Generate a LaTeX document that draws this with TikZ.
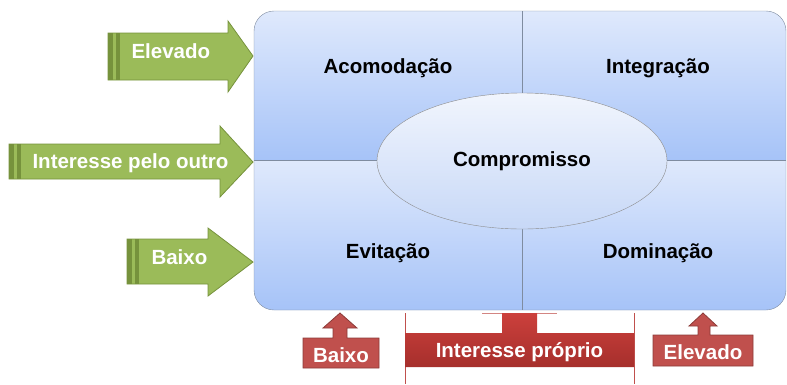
\documentclass[tikz,border=0pt]{standalone}
\usepackage{fontspec}
\setmainfont{Liberation Sans}
\usetikzlibrary{shapes.geometric}
\definecolor{quadtop}{HTML}{DFE9FC}
\definecolor{quadbot}{HTML}{A6C3F8}
\definecolor{ovaltop}{HTML}{F1F5FD}
\definecolor{ovalbot}{HTML}{C7D8F7}
\definecolor{edgegray}{HTML}{7F8CA0}
\definecolor{leafgreen}{HTML}{9BBB59}
\definecolor{darkgreen}{HTML}{76923C}
\definecolor{brickred}{HTML}{C0504D}
\definecolor{darkred}{HTML}{8C3B38}
\definecolor{redtop}{HTML}{CC403C}
\definecolor{redbot}{HTML}{A62F2C}
\begin{document}
\begin{tikzpicture}[x=1pt,y=-1pt,
    lbl/.style={font=\fontsize{20.5}{24}\selectfont\bfseries},
    wlbl/.style={lbl,text=white},
    greenarrow/.style={fill=leafgreen,draw=darkgreen,line width=0.8pt},
    redarrow/.style={fill=brickred,draw=darkred,line width=0.8pt}]
  \useasboundingbox (0,0) rectangle (787,384);
  % quadrants
  \begin{scope}
    \clip[rounded corners=20] (254,11) rectangle (786,310);
    \shade[top color=quadtop,bottom color=quadbot] (254,11) rectangle (786,160);
    \shade[top color=quadtop,bottom color=quadbot] (254,160) rectangle (786,310);
  \end{scope}
  \draw[edgegray] (254,160) -- (786,160);
  \draw[edgegray] (522,11) -- (522,310);
  \draw[edgegray,rounded corners=20] (254,11) rectangle (786,310);
  \node[lbl] (acomodacao) at (388,68) {Acomodação};
  \node[lbl] (integracao) at (658,68) {Integração};
  \node[lbl] (evitacao) at (388,253) {Evitação};
  \node[lbl] (dominacao) at (658,253) {Dominação};
  \node[lbl,ellipse,draw=black!45,top color=ovaltop,bottom color=ovalbot,
    minimum width=290,minimum height=136] (compromisso) at (522,161) {Compromisso};
  % left arrows
  \draw[greenarrow] (108,33) -- (228,33) -- (228,21) -- (253,56) -- (228,92) -- (228,80) -- (108,80) -- cycle;
  \fill[darkgreen] (108,33) rectangle (113,80);
  \fill[darkgreen] (115.5,33) rectangle (120,80);
  \node[wlbl,anchor=base west] (outroalto) at (128,58) {Elevado};
  \draw[greenarrow] (9,144) -- (220,144) -- (220,126) -- (253,162) -- (220,197) -- (220,179) -- (9,179) -- cycle;
  \fill[darkgreen] (9,144) rectangle (14,179);
  \fill[darkgreen] (16.5,144) rectangle (21,179);
  \node[wlbl,anchor=base west] (outro) at (29,168) {Interesse pelo outro};
  \draw[greenarrow] (127,239) -- (208,239) -- (208,228) -- (253,262) -- (208,296) -- (208,284) -- (127,284) -- cycle;
  \fill[darkgreen] (127,239) rectangle (132,284);
  \fill[darkgreen] (134.5,239) rectangle (139,284);
  \node[wlbl,anchor=base west] (outrobaixo) at (148,264) {Baixo};
  % bottom arrows
  \draw[redarrow] (303,338) -- (333,338) -- (333,328) -- (323,328) -- (340,313) -- (357,328) -- (347,328) -- (347,338) -- (379,338) -- (379,368) -- (303,368) -- cycle;
  \node[wlbl,anchor=base] (proprioBaixo) at (341,362) {Baixo};
  \draw[redarrow] (653,335) -- (698,335) -- (698,326) -- (689,326) -- (703,313) -- (717,326) -- (710,326) -- (710,335) -- (753,335) -- (753,366) -- (653,366) -- cycle;
  \node[wlbl,anchor=base] (proprioalto) at (703,359) {Elevado};
  \draw[brickred] (405,313) -- (405,384);
  \draw[brickred] (634,313) -- (634,384);
  \draw[brickred!70] (482,313) -- (557,313);
  \shade[top color=redtop,bottom color=redbot] (405,333) -- (502,333) -- (502,313) -- (537,313) -- (537,333) -- (634,333) -- (634,367) -- (405,367) -- cycle;
  \node[wlbl,anchor=base] (proprio) at (519.5,357) {Interesse próprio};
\end{tikzpicture}
\end{document}
